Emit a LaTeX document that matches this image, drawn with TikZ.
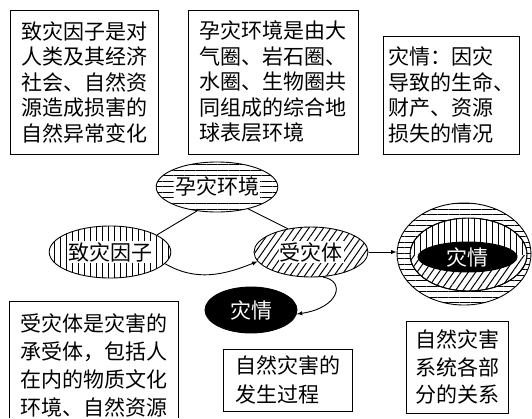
\documentclass[tikz,border=0pt]{standalone}
\usepackage{fontspec}
\newfontfamily\cjk{Noto Sans CJK SC}
\usetikzlibrary{shapes.geometric,patterns.meta}

\tikzset{
	infobox/.style={draw, line width=0.9pt, inner sep=0pt, align=left},
	blob/.style={ellipse, draw, line width=0.9pt, inner sep=0pt},
	hlines/.style={pattern={Lines[angle=0, distance=5.5pt, line width=1pt]}},
	vlines/.style={pattern={Lines[angle=90, distance=6pt, line width=1pt]}},
	slines/.style={pattern={Lines[angle=55, distance=6pt, line width=1pt]}},
}
\newcommand{\whitebg}[1]{{\setlength{\fboxsep}{1pt}\colorbox{white}{#1}}}

\begin{document}
\begin{tikzpicture}[x=1pt, y=1pt, >=latex, font=\cjk\fontsize{21}{25.5}\selectfont]

	\useasboundingbox (0,0) rectangle (532,-418);
	\coordinate (bottomedge) at (0,-418);

	% explanation boxes, top row
	\node[infobox, minimum width=148, minimum height=144] (causebox) at (84,-82) {致灾因子是对\\人类及其经济\\社会、自然资\\源造成损害的\\自然异常变化};
	\node[infobox, minimum width=170, minimum height=144] (envbox) at (273,-82) {孕灾环境是由大\\气圈、岩石圈、\\水圈、生物圈共\\同组成的综合地\\球表层环境};
	\node[infobox, minimum width=136, minimum height=118] (lossbox) at (451,-95) {灾情：因灾\\导致的生命、\\财产、资源\\损失的情况};

	% explanation boxes, bottom row
	\node[inner sep=0pt, align=left, minimum width=168, minimum height=126, font=\cjk\fontsize{21}{28}\selectfont] (bodybox) at (94,-365) {受灾体是灾害的\\承受体，包括人\\在内的物质文化\\环境、自然资源};
	\draw[line width=0.9pt] (bodybox.north west |- bottomedge) |- (bodybox.north east) -- (bodybox.north east |- bottomedge);
	\node[infobox, minimum width=129, minimum height=62, font=\cjk\fontsize{21}{29}\selectfont] (procbox) at (287.5,-380) {自然灾害的\\发生过程};
	\node[infobox, minimum width=102, minimum height=92, font=\cjk\fontsize{21}{27.5}\selectfont] (sysbox) at (457,-367) {自然灾害\\系统各部\\分的关系};

	% process
	\node[blob, vlines, minimum width=114, minimum height=52] (cause) at (110,-252) {\whitebg{致灾因子}};
	\node[blob, hlines, minimum width=110, minimum height=50] (env) at (217,-187) {\whitebg{孕灾环境}};
	\node[blob, slines, minimum width=114, minimum height=50] (body) at (311,-252) {\whitebg{受灾体}};
	\node[blob, fill=black, text=white, minimum width=92, minimum height=46] (loss) at (251,-310) {灾情};

	\draw[line width=0.9pt] (cause.20) -- (env.230);
	\draw[line width=0.9pt] (env.-35) -- (body.135);
	\draw[->, line width=0.9pt] (cause.-12) to[out=-30, in=202] (body.190);
	\draw[->, line width=0.9pt] (body.-65) .. controls +(24,-4) and +(42,6) .. (loss.-5);

	% system
	\node[blob, hlines, minimum width=134, minimum height=102] (sys) at (464,-254) {};
	\begin{scope}
		\clip (410,-255) rectangle (527,-218);
		\draw[line width=0.9pt, fill=white] (468.5,-254.5) ellipse (58.5 and 36.5);
		\fill[vlines] (468.5,-254.5) ellipse (58.5 and 36.5);
	\end{scope}
	\begin{scope}
		\clip (410,-255) rectangle (527,-292);
		\draw[line width=0.9pt, fill=white] (468.5,-254.5) ellipse (58.5 and 36.5);
		\fill[slines] (468.5,-254.5) ellipse (58.5 and 36.5);
	\end{scope}
	\draw[line width=0.9pt] (468.5,-254.5) ellipse (58.5 and 36.5);
	\fill[black] (467.5,-257) ellipse (50 and 15.5);
	\node[text=white, inner sep=0pt] (losscore) at (467.5,-257) {灾情};

	\draw[->, line width=0.9pt] (body.east) -- (body.east -| sys.west);

\end{tikzpicture}
\end{document}
